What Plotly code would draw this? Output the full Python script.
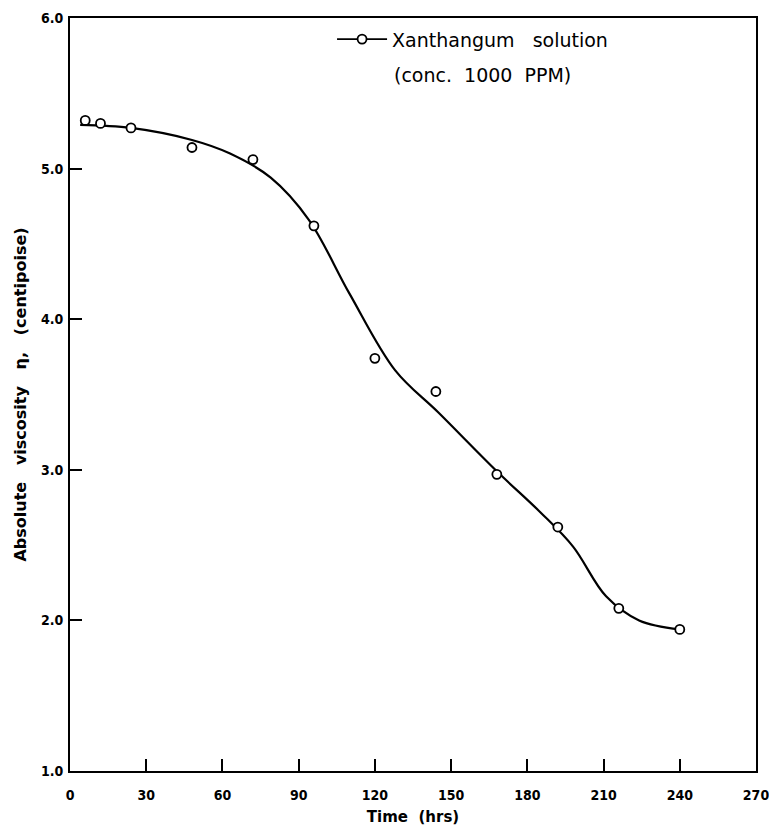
import plotly.graph_objects as go

# Measured data points
time_hrs = [6, 12, 24, 48, 72, 96, 120, 144, 168, 192, 216, 240]
viscosity = [5.32, 5.30, 5.27, 5.14, 5.06, 4.62, 3.74, 3.52, 2.97, 2.62, 2.08, 1.94]

# Hand-drawn smooth curve
curve_x = [4, 24, 48, 63, 79, 94, 110, 128, 145, 168, 185, 198, 211, 224, 240]
curve_y = [5.29, 5.27, 5.19, 5.10, 4.94, 4.66, 4.17, 3.66, 3.38, 2.99, 2.72, 2.49, 2.16, 2.00, 1.94]

x_ticks = [0, 30, 60, 90, 120, 150, 180, 210, 240, 270]
y_ticks = [1.0, 2.0, 3.0, 4.0, 5.0, 6.0]

legend_line1 = "Xanthangum   solution"
legend_line2 = "(conc.  1000  PPM)"
x_title = "Time  (hrs)"
y_title = "Absolute   viscosity   η,   (centipoise)"

FONT = "DejaVu Sans"
TICKFONT = "DejaVu Sans Condensed"

fig = go.Figure()
fig.add_trace(go.Scatter(
    x=curve_x, y=curve_y, mode="lines", line=dict(color="black", width=2.2, shape="spline", smoothing=1.0),
    showlegend=False, hoverinfo="skip"))
fig.add_trace(go.Scatter(
    x=time_hrs, y=viscosity, mode="markers",
    marker=dict(symbol="circle", size=9, color="white", line=dict(width=1.8, color="black")),
    showlegend=False))
fig.add_trace(go.Scatter(
    x=[None], y=[None], mode="lines+markers", name=legend_line1,
    line=dict(color="black", width=1.8),
    marker=dict(symbol="circle", size=9, color="white", line=dict(width=1.8, color="black"))))

axis_common = dict(
    showline=True, linecolor="black", linewidth=2, mirror=True,
    ticks="inside", ticklen=12, tickwidth=1.8, tickcolor="black",
    showgrid=False, zeroline=False, automargin=False, ticklabeloverflow="allow",
    tickfont=dict(family=TICKFONT, size=14, color="black", weight="bold"),
)

fig.update_xaxes(range=[0, 270], tickvals=x_ticks, ticktext=[str(v) for v in x_ticks],
                 ticklabelstandoff=10,
                 title=dict(text=x_title, font=dict(family=FONT, size=15, color="black", weight="bold"), standoff=10),
                 **axis_common)
fig.update_yaxes(range=[1.0, 6.0], tickvals=y_ticks, ticktext=[f"{v:.1f}" for v in y_ticks],
                 ticklabelstandoff=2,
                 title=dict(text=y_title, font=dict(family=FONT, size=16, color="black", weight="bold"), standoff=10),
                 **axis_common)

fig.add_annotation(text=legend_line2, xref="paper", yref="paper", x=0.470, y=0.924,
                   xanchor="left", yanchor="middle", showarrow=False,
                   font=dict(family=FONT, size=19, color="black"))

fig.update_layout(
    width=769, height=828,
    margin=dict(l=70, r=13, t=18, b=57),
    plot_bgcolor="white", paper_bgcolor="white",
    font=dict(family=FONT, color="black"),
    legend=dict(x=0.382, y=0.997, xanchor="left", yanchor="top", valign="middle",
                font=dict(family=FONT, size=19, color="black"),
                bgcolor="rgba(0,0,0,0)", itemwidth=50, tracegroupgap=0),
)

fig.write_html("out.html")
